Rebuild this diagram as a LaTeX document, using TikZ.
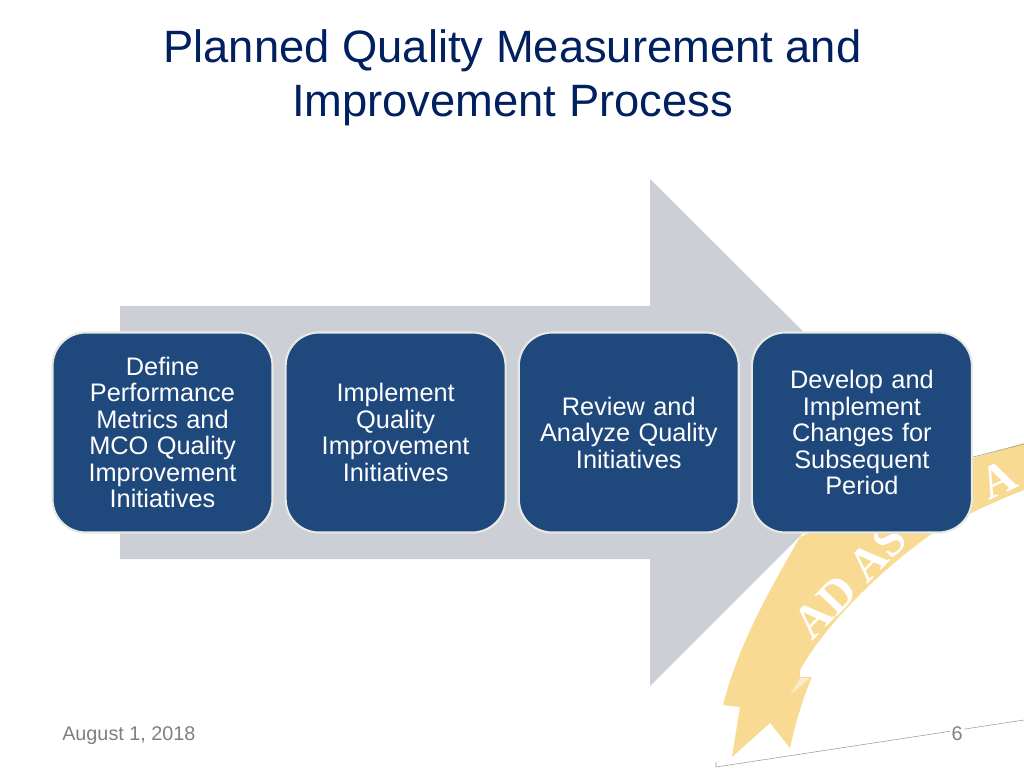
\documentclass[tikz,border=0pt]{standalone}
\usepackage{fontspec}
\setmainfont{Liberation Sans}
\newfontfamily\sealfont{Liberation Serif}
\usetikzlibrary{positioning}
\definecolor{titleblue}{HTML}{002060}
\definecolor{boxblue}{HTML}{1F497D}
\definecolor{boxedge}{HTML}{E6E9E4}
\definecolor{arrowgrey}{HTML}{CCCFD5}
\definecolor{ribbon}{HTML}{F8DA92}
\definecolor{footgrey}{HTML}{808080}
\begin{document}
\begin{tikzpicture}[
    x=0.75pt, y=-0.75pt,
    stepbox/.style={draw=boxedge, line width=1.6pt, fill=boxblue, rounded corners=25pt, text=white, minimum width=165pt, minimum height=150pt, inner sep=0pt, text width=150pt, align=center, font=\fontsize{19}{19.9}\selectfont},
    sealtext/.style={text=white, font=\sealfont\bfseries\fontsize{35}{35}\selectfont},
    foot/.style={text=footgrey, font=\fontsize{14.85}{17}\selectfont, inner sep=0pt},
    hairline/.style={draw=black!40, line width=0.4pt}
]
    \useasboundingbox (0,0) rectangle (1024,768);
    \fill[white] (0,0) rectangle (1024,768);

    % seal ribbon
    \fill[ribbon] (1024,443) -- (973,458) -- (800,537)
        .. controls (770,590) and (740,640) .. (723,705)
        -- (740,707) -- (732,757) -- (770,723) -- (790,748)
        .. controls (795,725) and (802,700) .. (812,677)
        -- (800,677) -- (800,670)
        .. controls (825,625) and (880,570) .. (933,533)
        .. controls (960,518) and (990,503) .. (1024,490) -- cycle;
    \fill[white, opacity=0.5] (810,678) -- (800,678) -- (790,695) -- cycle;
    \node[sealtext, rotate=46] (sealAD) at (850,581) {AD AS};
    \node[sealtext, rotate=25, inner sep=0pt] (sealA) at (998,479) {A};
    \draw[hairline] (973,457) -- (1024,444);
    \draw[hairline] (716,762) -- (716,767) -- (1024,720);

    % big arrow behind the boxes
    \fill[arrowgrey] (120,306) -- (650,306) -- (650,179) -- (904,432) -- (650,686) -- (650,559) -- (120,559) -- cycle;

    \node[stepbox] (define) at (162.5,432.5) {Define\\Performance\\Metrics and\\MCO Quality\\Improvement\\Initiatives};
    \node[stepbox, right=8.25pt of define] (implement) {Implement\\Quality\\Improvement\\Initiatives};
    \node[stepbox, right=8.25pt of implement] (review) {Review and\\Analyze Quality\\Initiatives};
    \node[stepbox, right=8.25pt of review] (develop) {Develop and\\Implement\\Changes for\\Subsequent\\Period};

    \node[text=titleblue, align=center, inner sep=0pt, font=\fontsize{34}{40.5}\selectfont] (title) at (512.5,78) {Planned Quality Measurement and\\Improvement Process};

    \node[foot, anchor=west] (date) at (62,736) {August 1, 2018};
    \node[foot, fill=white, inner xsep=1pt] (page) at (957,734) {6};
\end{tikzpicture}
\end{document}
